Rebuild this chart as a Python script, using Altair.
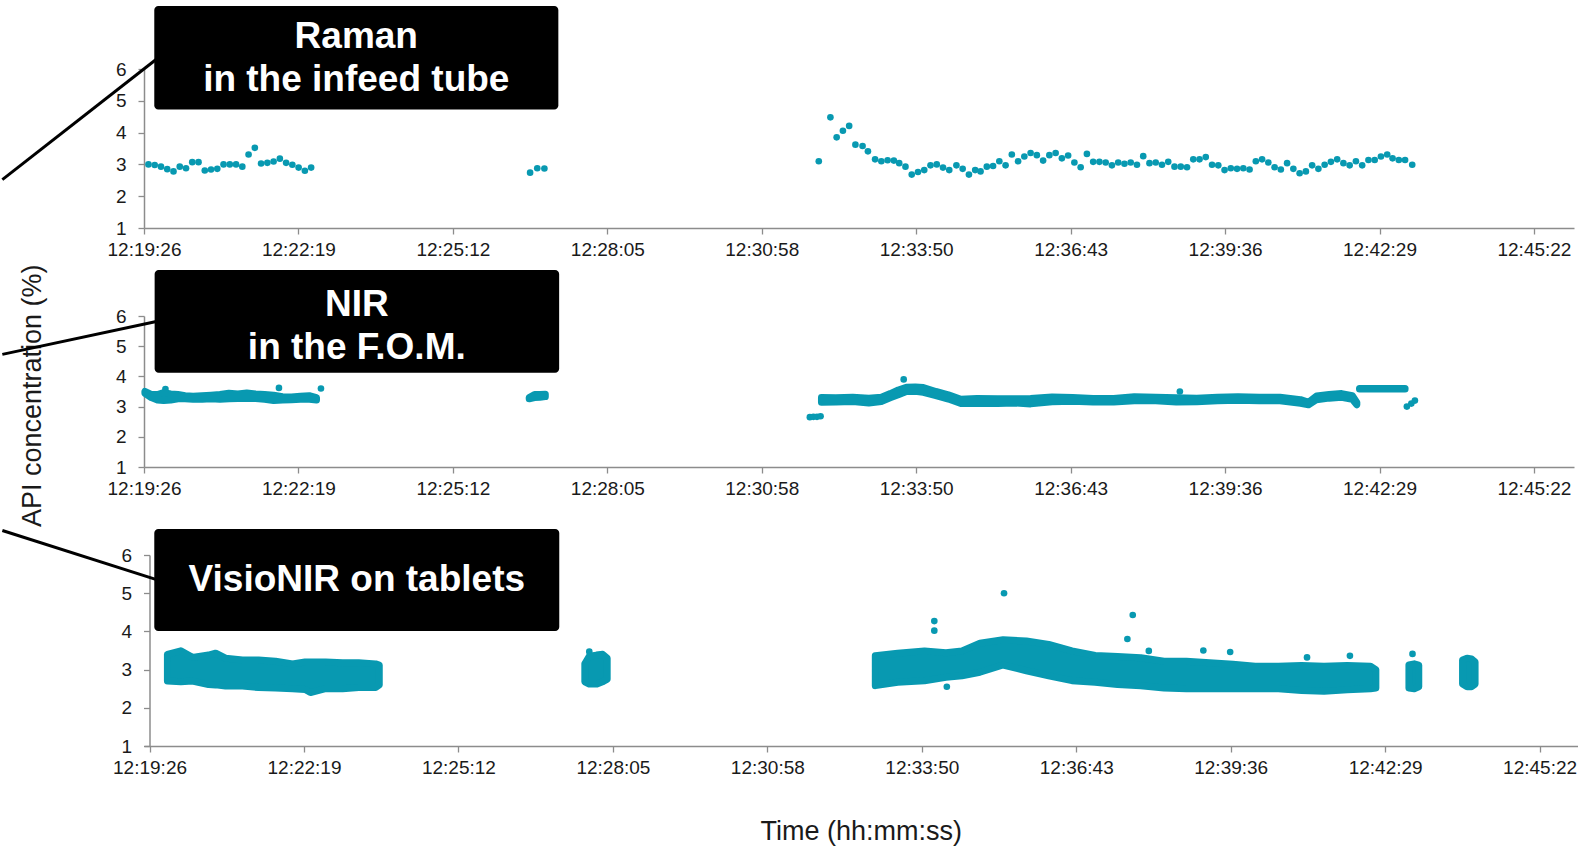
import json

import altair as alt
import pandas as pd

TEAL = "#0899b1"
AXIS_GREY = "#8c8c8c"
TEXT_DARK = "#1a1a1a"
FONT = "Liberation Sans"

# ---- time axis (seconds elapsed since 12:19:26) ----
TICK_LABELS = ["12:19:26", "12:22:19", "12:25:12", "12:28:05", "12:30:58",
               "12:33:50", "12:36:43", "12:39:36", "12:42:29", "12:45:22"]
TICK_SECONDS = [0, 172.8, 345.6, 518.4, 691.2, 864.0, 1036.8, 1209.6, 1382.4, 1555.2]
TICK_STEP = 172.8
Y_TICKS = [1, 2, 3, 4, 5, 6]

# ---- Raman in the infeed tube: individual spectra ----
RAMAN_T = [5, 12, 19, 26, 33, 40, 47, 54, 61, 68, 75, 82, 89, 96, 103, 110, 117, 124,
           131, 138, 145, 152, 159, 166, 173, 180, 187,
           432, 440, 448,
           755, 768, 775, 782, 789, 796, 804, 810, 818, 825, 832, 839, 845, 852, 859,
           866, 873, 880, 887, 894, 901, 909, 916, 923, 930, 936, 943, 950, 957, 964,
           971, 978, 985, 992, 999, 1006, 1013, 1020, 1027, 1034, 1041, 1048, 1055,
           1062, 1069, 1076, 1083, 1090, 1097, 1104, 1111, 1118, 1125, 1132, 1139,
           1146, 1153, 1160, 1167, 1174, 1181, 1188, 1195, 1202, 1209, 1216, 1223,
           1230, 1237, 1244, 1251, 1258, 1265, 1272, 1279, 1286, 1293, 1300, 1307,
           1314, 1321, 1328, 1335, 1342, 1349, 1356, 1363, 1370, 1377, 1384, 1391,
           1397, 1404, 1411, 1419]
RAMAN_V = [3.00, 2.98, 2.93, 2.85, 2.78, 2.93, 2.88, 3.07, 3.07, 2.81, 2.84, 2.86, 3.00,
           3.00, 3.00, 2.93, 3.31, 3.52, 3.03, 3.05, 3.09, 3.18, 3.05, 2.99, 2.90, 2.80,
           2.90,
           2.74, 2.88, 2.87,
           3.10, 4.48, 3.85, 4.06, 4.21, 3.62, 3.58, 3.41, 3.16, 3.10, 3.13, 3.12, 3.04,
           2.93, 2.68, 2.76, 2.82, 2.97, 3.00, 2.90, 2.82, 2.97, 2.86, 2.68, 2.82, 2.78,
           2.93, 2.95, 3.10, 2.97, 3.31, 3.10, 3.25, 3.36, 3.29, 3.12, 3.29, 3.36, 3.19,
           3.28, 3.06, 2.91, 3.33, 3.08, 3.08, 3.06, 2.97, 3.06, 3.02, 3.06, 2.99, 3.26,
           3.04, 3.06, 2.99, 3.08, 2.93, 2.93, 2.91, 3.16, 3.16, 3.23, 2.99, 2.97, 2.82,
           2.88, 2.86, 2.88, 2.84, 3.10, 3.16, 3.06, 2.91, 2.84, 3.04, 2.86, 2.72, 2.78,
           2.97, 2.86, 2.99, 3.08, 3.16, 3.04, 2.97, 3.10, 2.97, 3.14, 3.14, 3.25, 3.31,
           3.19, 3.14, 3.14, 2.99]

# ---- NIR in the F.O.M.: dense runs given as low/high envelopes ----
NIR_T = [1, 8, 15, 22, 30, 38, 46, 55, 65, 75, 85, 95, 105, 115, 125, 135, 145, 155,
         165, 175, 185, 193,
         431, 437, 443, 449,
         758, 774, 793, 811, 825, 835, 844, 853, 863, 872, 886, 900, 914, 932, 955, 974,
         992, 1016, 1039, 1062, 1085, 1108, 1132, 1155, 1178, 1201, 1224, 1248, 1271,
         1294, 1303, 1312, 1326, 1340, 1352, 1357,
         1360, 1411]
NIR_LO = [3.44, 3.30, 3.22, 3.20, 3.22, 3.26, 3.26, 3.24, 3.24, 3.26, 3.24, 3.26, 3.27,
          3.28, 3.27, 3.24, 3.20, 3.22, 3.23, 3.24, 3.24, 3.22,
          3.26, 3.30, 3.31, 3.33,
          3.14, 3.15, 3.17, 3.12, 3.17, 3.29, 3.39, 3.50, 3.51, 3.47, 3.36, 3.25, 3.10,
          3.11, 3.10, 3.12, 3.09, 3.16, 3.18, 3.15, 3.15, 3.19, 3.19, 3.15, 3.16, 3.19,
          3.21, 3.19, 3.19, 3.11, 3.06, 3.23, 3.28, 3.31, 3.24, 3.06,
          3.58, 3.58]
NIR_HI = [3.50, 3.40, 3.40, 3.46, 3.42, 3.40, 3.36, 3.34, 3.36, 3.38, 3.40, 3.44, 3.42,
          3.45, 3.42, 3.40, 3.38, 3.33, 3.32, 3.34, 3.36, 3.30,
          3.30, 3.40, 3.40, 3.41,
          3.30, 3.29, 3.31, 3.28, 3.31, 3.43, 3.55, 3.64, 3.65, 3.63, 3.50, 3.39, 3.24,
          3.27, 3.26, 3.26, 3.27, 3.32, 3.30, 3.27, 3.27, 3.33, 3.31, 3.29, 3.28, 3.31,
          3.33, 3.31, 3.31, 3.23, 3.14, 3.35, 3.40, 3.43, 3.36, 3.14,
          3.60, 3.60]
NIR_SEG = ["a"] * 22 + ["b"] * 4 + ["d"] * 36 + ["e"] * 2
NIR_PT_T = [24, 151, 198, 745, 749, 753, 757, 850, 1159, 1413, 1418, 1422]
NIR_PT_V = [3.58, 3.62, 3.60, 2.65, 2.66, 2.66, 2.68, 3.90, 3.50, 3.00, 3.10, 3.20]

# ---- VisioNIR on tablets: point clouds given as low/high envelopes ----
VIS_T = [20, 35, 48, 66, 74, 85, 104, 122, 141, 160, 174, 180, 197, 216, 234, 253, 257,
         487, 492, 500, 507, 512,
         812, 837, 867, 891, 909, 929, 955, 981, 1006, 1032, 1058, 1083, 1109, 1135,
         1160, 1186, 1212, 1237, 1263, 1289, 1314, 1340, 1366, 1372,
         1409, 1415, 1420,
         1469, 1474, 1479, 1483]
VIS_LO = [2.70, 2.68, 2.70, 2.61, 2.60, 2.57, 2.57, 2.53, 2.52, 2.50, 2.48, 2.40, 2.50,
          2.50, 2.53, 2.53, 2.60,
          2.68, 2.62, 2.62, 2.68, 2.75,
          2.58, 2.67, 2.71, 2.80, 2.84, 2.93, 3.12, 2.97, 2.84, 2.71, 2.67, 2.61, 2.58,
          2.52, 2.50, 2.50, 2.50, 2.50, 2.50, 2.45, 2.43, 2.47, 2.50, 2.52,
          2.52, 2.50, 2.55,
          2.62, 2.55, 2.55, 2.62]
VIS_HI = [3.40, 3.49, 3.32, 3.38, 3.43, 3.30, 3.25, 3.25, 3.22, 3.15, 3.20, 3.20, 3.20,
          3.18, 3.18, 3.15, 3.12,
          3.15, 3.35, 3.38, 3.40, 3.30,
          3.36, 3.43, 3.49, 3.44, 3.49, 3.69, 3.78, 3.75, 3.66, 3.49, 3.37, 3.34, 3.31,
          3.22, 3.22, 3.18, 3.14, 3.09, 3.09, 3.11, 3.09, 3.11, 3.09, 3.00,
          3.12, 3.15, 3.12,
          3.25, 3.30, 3.28, 3.20]
VIS_SEG = ["a"] * 17 + ["b"] * 5 + ["c"] * 24 + ["d"] * 3 + ["e"] * 4
VIS_PT_T = [492, 878, 878, 892, 956, 1094, 1100, 1118, 1179, 1209, 1295, 1343, 1413]
VIS_PT_V = [3.47, 4.27, 4.02, 2.55, 5.00, 3.80, 4.43, 3.49, 3.50, 3.46, 3.32, 3.36, 3.41]

# ---- callout boxes ----
BOX_TEXT = [["Raman", "in the infeed tube"], ["NIR", "in the F.O.M."], ["VisioNIR on tablets"]]

X_DOM_TOP = [0, 1600]
X_DOM_BOTTOM = [-6.2, 1597.6]
Y_DOM = [1, 6]

LABEL_EXPR = json.dumps(TICK_LABELS) + "[round(datum.value / %s)]" % TICK_STEP


class Frame:
    """Shared x/y scales and axes for one panel, reused by every layer in it."""

    def __init__(self, xdom, x_title="", y_offset=0):
        self.xscale = alt.Scale(domain=xdom, nice=False, zero=False)
        self.yscale = alt.Scale(domain=Y_DOM, nice=False, zero=False)
        xkw = dict(values=TICK_SECONDS, labelExpr=LABEL_EXPR, labelFlush=False,
                   labelOverlap=False, grid=False, tickSize=6, tickWidth=1.3,
                   domainWidth=1.5, domainColor=AXIS_GREY, tickColor=AXIS_GREY,
                   labelFont=FONT, labelFontSize=19, labelColor=TEXT_DARK, labelPadding=6)
        if x_title:
            xkw.update(titleFont=FONT, titleFontSize=27, titleFontWeight="normal",
                       titleColor=TEXT_DARK, titlePadding=41)
        self.xaxis = alt.Axis(**xkw)
        self.yaxis = alt.Axis(values=Y_TICKS, grid=False, tickSize=6, tickWidth=1.3,
                              domainWidth=1.5, domainColor=AXIS_GREY, tickColor=AXIS_GREY,
                              labelFont=FONT, labelFontSize=19, labelColor=TEXT_DARK,
                              labelPadding=12, offset=y_offset)
        self.x_title = x_title if x_title else None

    def x(self, field):
        return alt.X(field, scale=self.xscale, axis=self.xaxis, title=self.x_title)

    def y(self, field):
        return alt.Y(field, scale=self.yscale, axis=self.yaxis, title=None)


def callout(fr, box, lines, line_pts):
    """Black label box with white text, and a black leader line into the margin."""
    x0, x1, y0, y1 = box
    rect = alt.Chart(pd.DataFrame({"x0": [x0], "x1": [x1], "y0": [y0], "y1": [y1]})).mark_rect(
        color="black", cornerRadius=4
    ).encode(x=fr.x("x0:Q"), x2="x1:Q", y=fr.y("y0:Q"), y2="y1:Q")
    txt = alt.Chart(pd.DataFrame(lines)).mark_text(
        font=FONT, fontSize=37, fontWeight="bold", color="white",
        align="center", baseline="middle"
    ).encode(x=fr.x("x:Q"), y=fr.y("y:Q"), text="label:N")
    (lx0, ly0), (lx1, ly1) = line_pts
    rule = alt.Chart(pd.DataFrame({"x0": [lx0], "y0": [ly0], "x1": [lx1], "y1": [ly1]})).mark_rule(
        color="black", strokeWidth=3, strokeCap="butt"
    ).encode(x=fr.x("x0:Q"), y=fr.y("y0:Q"), x2="x1:Q", y2="y1:Q")
    return [rule, rect, txt]


def points(fr, t, v):
    df = pd.DataFrame({"t": t, "v": v})
    return alt.Chart(df).mark_circle(size=44, color=TEAL, opacity=1).encode(
        x=fr.x("t:Q"), y=fr.y("v:Q"))


def band(fr, t, lo, hi, seg):
    df = pd.DataFrame({"t": t, "lo": lo, "hi": hi, "seg": seg})
    return alt.Chart(df).mark_area(
        fill=TEAL, fillOpacity=1, stroke=TEAL, strokeWidth=7, strokeJoin="round",
        interpolate="linear"
    ).encode(x=fr.x("t:Q"), y=fr.y("lo:Q"), y2="hi:Q", detail="seg:N")


# Panel 1: Raman
f1 = Frame(X_DOM_TOP)
p1 = alt.layer(
    points(f1, RAMAN_T, RAMAN_V),
    *callout(f1, (11.5, 463.6, 7.98, 4.73),
             {"x": [237.5, 237.5], "y": [7.02, 5.64], "label": BOX_TEXT[0]},
             ((-158.5, 2.52), (14.9, 6.33))),
).properties(width=1430, height=159)

# Panel 2: NIR, plus the shared y-axis title
f2 = Frame(X_DOM_TOP)
ytitle = alt.Chart(pd.DataFrame({"x": [-124.0], "y": [3.36],
                                 "label": ["API concentration (%)"]})).mark_text(
    font=FONT, fontSize=27, color=TEXT_DARK, angle=270, align="center", baseline="middle"
).encode(x=f2.x("x:Q"), y=f2.y("y:Q"), text="label:N")
p2 = alt.layer(
    points(f2, NIR_PT_T, NIR_PT_V),
    band(f2, NIR_T, NIR_LO, NIR_HI, NIR_SEG),
    ytitle,
    *callout(f2, (11.9, 464.5, 7.52, 4.12),
             {"x": [238.1, 238.1], "y": [6.37, 4.95], "label": BOX_TEXT[1]},
             ((-158.5, 4.73), (13.8, 5.82))),
).properties(width=1430, height=151)

# Panel 3: VisioNIR
f3 = Frame(X_DOM_BOTTOM, x_title="Time (hh:mm:ss)", y_offset=-5.5)
p3 = alt.layer(
    points(f3, VIS_PT_T, VIS_PT_V),
    band(f3, VIS_T, VIS_LO, VIS_HI, VIS_SEG),
    *callout(f3, (5.3, 458.4, 6.68, 4.01),
             {"x": [231.9], "y": [5.35], "label": BOX_TEXT[2]},
             ((-164.7, 6.64), (8.7, 5.35))),
).properties(width=1433.5, height=191)

chart = alt.vconcat(p1, p2, p3, spacing=88, bounds="flush").properties(
    padding={"left": 0, "top": 5, "right": 5, "bottom": 5},
    background="white",
).configure_view(stroke="transparent")

chart.save("out.html", embed_options={"renderer": "svg", "actions": False})
